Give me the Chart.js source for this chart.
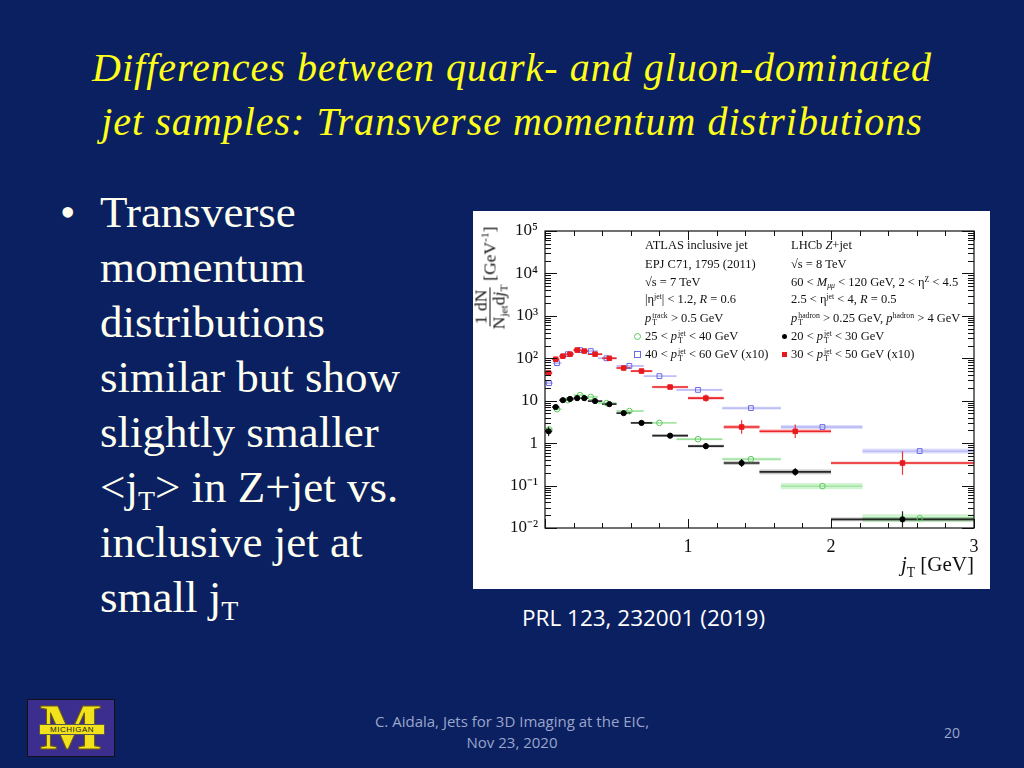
<!DOCTYPE html>
<html><head><meta charset="utf-8">
<script src="https://cdn.jsdelivr.net/npm/chart.js@4/dist/chart.umd.min.js"></script>
<style>
html,body{margin:0;padding:0;}
body{width:1024px;height:768px;background:#0a2060;position:relative;overflow:hidden;font-family:"Liberation Serif","Times New Roman",serif;}
.title{position:absolute;left:0;top:41px;width:1024px;text-align:center;color:#ffff1a;font-family:"Liberation Serif",serif;font-style:italic;font-size:40px;letter-spacing:1px;line-height:54px;white-space:nowrap;}
.it{font-style:italic;}
.bdot{position:absolute;left:60px;top:185px;color:#fffff0;font-size:44px;line-height:55px;}
.bul{position:absolute;left:100px;top:185px;color:#fffff0;font-size:45px;line-height:55px;white-space:nowrap;}
.bul sub{font-size:0.62em;vertical-align:-0.28em;line-height:0;}
.caption{position:absolute;left:522px;top:603px;color:#ffffff;font-family:"Open Sans","Liberation Sans",sans-serif;font-size:22.5px;line-height:30px;white-space:nowrap;}
.foot{position:absolute;left:292px;width:440px;top:711px;text-align:center;color:#9aa5cc;font-family:"Open Sans","Liberation Sans",sans-serif;font-size:15px;line-height:21px;}
.pnum{position:absolute;left:944px;top:723px;color:#9aa5cc;font-family:"Open Sans","Liberation Sans",sans-serif;font-size:14px;line-height:20px;}
.logo{position:absolute;left:27px;top:699px;width:86px;height:56px;background:#3b2e8e;border:1px solid #111;overflow:hidden;}
.logo .m{position:absolute;left:0;top:-6px;width:86px;text-align:center;color:#f2e21c;font-family:"Liberation Serif",serif;font-weight:bold;font-size:66px;line-height:66px;-webkit-text-stroke:1px #6b5a10;}
.logo .band{position:absolute;left:11px;top:24px;width:64px;height:9px;background:#f2e21c;border:1px solid #555;color:#222;font-family:"Liberation Sans",sans-serif;font-size:8px;line-height:9px;text-align:center;letter-spacing:0.5px;}
#wrap{position:absolute;left:473px;top:211px;width:517px;height:378px;background:#fff;}
#c{position:absolute;left:0;top:0;}
.lg{position:absolute;font-family:"Liberation Serif",serif;font-size:12.5px;line-height:16px;color:#111;white-space:nowrap;}
.st{display:inline-flex;flex-direction:column;font-size:0.62em;line-height:0.95;vertical-align:4px;margin-left:1px;}
.lg sup{font-size:0.62em;line-height:0;vertical-align:0.5em;}
.lg sub{font-size:0.62em;line-height:0;vertical-align:-0.3em;}
.mk{position:absolute;}
.ylab{position:absolute;left:17px;top:67px;transform:translate(-50%,-50%) rotate(-90deg);font-family:"Liberation Serif",serif;font-size:17.5px;color:#111;white-space:nowrap;display:flex;align-items:center;}
.frac{display:inline-flex;flex-direction:column;align-items:center;line-height:17px;margin-right:4px;}
.frac .num{border-bottom:1px solid #111;padding:0 2px;}
.frac sub,.xlab sub,.ylab sup{font-size:0.65em;line-height:0;}
.frac sub{vertical-align:-0.3em;}
.ylab sup{vertical-align:0.6em;}
.xlab{position:absolute;right:16px;top:340px;font-family:"Liberation Serif",serif;font-size:21px;line-height:26px;color:#111;white-space:nowrap;}
.xlab sub{vertical-align:-0.45em;}
</style></head>
<body>
<div class="title">Differences between quark- and gluon-dominated<br>jet samples: Transverse momentum distributions</div>
<div class="bdot">•</div>
<div class="bul">Transverse<br>momentum<br>distributions<br>similar but show<br>slightly smaller<br>&lt;j<sub>T</sub>&gt; in Z+jet vs.<br>inclusive jet at<br>small j<sub>T</sub></div>

<div id="wrap">
  <canvas id="c" width="517" height="378"></canvas>
  <div class="ylab"><span class="frac"><span class="num">1&nbsp;dN</span><span>N<sub>jet</sub>d<span class="it">j</span><sub>T</sub></span></span><span>[GeV<sup>-1</sup>]</span></div>
  <div class="xlab"><span class="it">j</span><sub>T</sub> [GeV]</div>

  <div class="lg" style="left:172px;top:26px;">ATLAS inclusive jet</div>
  <div class="lg" style="left:172px;top:45px;">EPJ C71, 1795 (2011)</div>
  <div class="lg" style="left:172px;top:63px;">√s = 7 TeV</div>
  <div class="lg" style="left:172px;top:80px;">|η<sup>jet</sup>| &lt; 1.2, <span class="it">R</span> = 0.6</div>
  <div class="lg" style="left:172px;top:99px;"><span class="it">p</span><span class="st"><span>track</span><span>T</span></span> &gt; 0.5 GeV</div>
  <div class="lg" style="left:172px;top:117px;">25 &lt; <span class="it">p</span><span class="st"><span>jet</span><span>T</span></span> &lt; 40 GeV</div>
  <div class="lg" style="left:172px;top:135px;">40 &lt; <span class="it">p</span><span class="st"><span>jet</span><span>T</span></span> &lt; 60 GeV (x10)</div>
  <span class="mk" style="left:161px;top:122px;width:5px;height:5px;border:1px solid #5cc85c;border-radius:50%;"></span>
  <span class="mk" style="left:161px;top:140px;width:5px;height:5px;border:1px solid #6a6ae8;"></span>

  <div class="lg" style="left:318px;top:26px;">LHCb <span class="it">Z</span>+jet</div>
  <div class="lg" style="left:318px;top:45px;">√s = 8 TeV</div>
  <div class="lg" style="left:318px;top:63px;">60 &lt; <span class="it">M</span><sub><span class="it">μμ</span></sub> &lt; 120 GeV, 2 &lt; η<sup>Z</sup> &lt; 4.5</div>
  <div class="lg" style="left:318px;top:80px;">2.5 &lt; η<sup>jet</sup> &lt; 4, <span class="it">R</span> = 0.5</div>
  <div class="lg" style="left:318px;top:99px;"><span class="it">p</span><span class="st"><span>hadron</span><span>T</span></span> &gt; 0.25 GeV, <span class="it">p</span><sup>hadron</sup> &gt; 4 GeV</div>
  <div class="lg" style="left:318px;top:117px;">20 &lt; <span class="it">p</span><span class="st"><span>jet</span><span>T</span></span> &lt; 30 GeV</div>
  <div class="lg" style="left:318px;top:135px;">30 &lt; <span class="it">p</span><span class="st"><span>jet</span><span>T</span></span> &lt; 50 GeV (x10)</div>
  <span class="mk" style="left:309px;top:123px;width:5px;height:5px;background:#000;border-radius:50%;"></span>
  <span class="mk" style="left:309px;top:141px;width:5px;height:5px;background:#e8191e;"></span>
</div>

<div class="caption">PRL 123, 232001 (2019)</div>
<div class="logo"><div class="m">M</div><div class="band">MICHIGAN</div></div>
<div class="foot">C. Aidala, Jets for 3D Imaging at the EIC,<br>Nov 23, 2020</div>
<div class="pnum">20</div>

<script>
// ---- data ----
const lhcbEdges = [0, 0.05, 0.1, 0.15, 0.2, 0.25, 0.3, 0.4, 0.5, 0.6, 0.75, 1.0, 1.25, 1.5, 2.0, 3.0];
const lhcbX     = [0.025, 0.075, 0.125, 0.175, 0.225, 0.275, 0.35, 0.45, 0.55, 0.675, 0.875, 1.125, 1.375, 1.75, 2.5];
const lhcbHigh  = [45, 95, 112, 125, 156, 148, 125, 100, 59, 50, 21, 11.5, 2.4, 1.9, 0.34];        // 30<pT<50 (x10)
const lhcbHighStat = [0.17, 0.05, 0.04, 0.04, 0.03, 0.03, 0.03, 0.03, 0.04, 0.05, 0.11, 0.22, 0.44, 0.44, 0.89];
const lhcbHighSys  = [0.06, 0.05, 0.05, 0.05, 0.05, 0.05, 0.05, 0.05, 0.06, 0.06, 0.07, 0.08, 0.11, 0.11, 0.08];
const lhcbLow   = [1.9, 7.1, 10.3, 11, 11.5, 11.5, 9.8, 8.3, 5.1, 3.0, 1.5, 0.85, 0.34, 0.21, 0.016];  // 20<pT<30
const lhcbLowStat = [0.30, 0.06, 0.04, 0.04, 0.03, 0.03, 0.03, 0.04, 0.05, 0.06, 0.08, 0.18, 0.24, 0.24, 0.55];
const lhcbLowSys  = [0.06, 0.05, 0.05, 0.05, 0.05, 0.05, 0.05, 0.05, 0.06, 0.06, 0.07, 0.08, 0.11, 0.14, 0.11];

const atlasEdges = [0, 0.055, 0.115, 0.2, 0.28, 0.37, 0.5, 0.69, 0.92, 1.24, 1.65, 2.22, 3.0];
const atlasX     = [0.028, 0.084, 0.16, 0.245, 0.32, 0.43, 0.59, 0.80, 1.07, 1.44, 1.94, 2.62];
const atlasLow   = [2.1, 6.3, 10.3, 13.5, 12.3, 8.8, 5.7, 3.0, 1.24, 0.42, 0.097, 0.017];   // 25<pT<40
const atlasLowSys = [0.06, 0.05, 0.05, 0.05, 0.05, 0.05, 0.05, 0.05, 0.06, 0.08, 0.18, 0.24];
const atlasHigh  = [26, 77, 125, 156, 148, 100, 66, 38, 18, 6.7, 2.4, 0.65];           // 40<pT<60 (x10)
const atlasHighSys = [0.05, 0.05, 0.05, 0.05, 0.05, 0.05, 0.05, 0.05, 0.06, 0.08, 0.11, 0.14];

const yTickValues = [0.01, 0.1, 1, 10, 100, 1000, 10000, 100000];
const yTickLabels = ['10⁻²', '10⁻¹', '1', '10', '10²', '10³', '10⁴', '10⁵'];
const xTickLabels = {1: '1', 2: '2', 3: '3'};

const series = [
  {x: lhcbX, v: lhcbHigh, edges: lhcbEdges, stat: lhcbHighStat, sys: lhcbHighSys,
   bar: 'rgba(235,30,35,0.95)', band: 'rgba(240,60,60,0.35)', lw: 1.6, statCol: 'rgba(235,30,35,0.9)'},
  {x: lhcbX, v: lhcbLow, edges: lhcbEdges, stat: lhcbLowStat, sys: lhcbLowSys,
   bar: 'rgba(20,20,20,0.9)', band: 'rgba(0,0,0,0.22)', lw: 1.6, statCol: 'rgba(0,0,0,0.85)'},
  {x: atlasX, v: atlasHigh, edges: atlasEdges, stat: null, sys: atlasHighSys,
   bar: 'rgba(140,140,240,0.45)', band: 'rgba(150,150,245,0.35)', lw: 1.4},
  {x: atlasX, v: atlasLow, edges: atlasEdges, stat: null, sys: atlasLowSys,
   bar: 'rgba(110,210,110,0.55)', band: 'rgba(120,220,120,0.35)', lw: 1.4}
];
const pts = (xs, vs) => xs.map((x, i) => ({x: x, y: vs[i]}));

const errPlugin = {
  id: 'errbars',
  beforeDatasetsDraw(chart) {
    const {ctx, chartArea: a, scales: {x, y}} = chart;
    ctx.save();
    ctx.beginPath(); ctx.rect(a.left, a.top, a.right - a.left, a.bottom - a.top); ctx.clip();
    [3, 2, 1, 0].forEach(k => {
      const s = series[k];
      s.v.forEach((v, i) => {
        const xl = x.getPixelForValue(s.edges[i]), xr = x.getPixelForValue(s.edges[i + 1]);
        const yc = y.getPixelForValue(v);
        const f = 1 + s.sys[i];
        const y1 = y.getPixelForValue(v * f), y2 = y.getPixelForValue(v / f);
        ctx.fillStyle = s.band;
        ctx.fillRect(xl, y1, xr - xl, y2 - y1);
        ctx.strokeStyle = s.bar; ctx.lineWidth = s.lw;
        ctx.beginPath(); ctx.moveTo(xl, yc); ctx.lineTo(xr, yc); ctx.stroke();
        if (s.stat) {
          const e = 1 + s.stat[i];
          const xc = x.getPixelForValue(s.x[i]);
          ctx.strokeStyle = s.statCol; ctx.lineWidth = 1.2;
          ctx.beginPath(); ctx.moveTo(xc, y.getPixelForValue(v * e)); ctx.lineTo(xc, y.getPixelForValue(v / e)); ctx.stroke();
        }
      });
    });
    ctx.restore();
  },
  afterDraw(chart) {
    const {ctx, chartArea: a, scales: {x, y}} = chart;
    ctx.save();
    ctx.strokeStyle = '#111'; ctx.lineWidth = 1.2;
    ctx.strokeRect(a.left, a.top, a.right - a.left, a.bottom - a.top);
    ctx.lineWidth = 1;
    ctx.beginPath();
    for (let d = -2; d <= 5; d++) {
      for (let m = 1; m <= 9; m++) {
        const val = m * Math.pow(10, d);
        if (val > 1e5 * 1.0001) break;
        const py = Math.round(y.getPixelForValue(val)) + 0.5;
        const L = m === 1 ? 12 : 6;
        ctx.moveTo(a.left, py); ctx.lineTo(a.left + L, py);
        ctx.moveTo(a.right, py); ctx.lineTo(a.right - L, py);
      }
    }
    for (let k = 0; k <= 15; k++) {
      const val = k * 0.2;
      const px = Math.round(x.getPixelForValue(val)) + 0.5;
      const L = (k % 5 === 0) ? 9 : 5;
      ctx.moveTo(px, a.bottom); ctx.lineTo(px, a.bottom - L);
      ctx.moveTo(px, a.top); ctx.lineTo(px, a.top + L);
    }
    ctx.stroke();
    ctx.restore();
  }
};

new Chart(document.getElementById('c'), {
  type: 'scatter',
  data: {
    datasets: [
      {label: 'LHCb 30<pT<50 (x10)', data: pts(lhcbX, lhcbHigh), pointStyle: 'rect', pointRadius: 3.2,
       backgroundColor: '#e8191e', borderColor: '#e8191e', borderWidth: 1},
      {label: 'LHCb 20<pT<30', data: pts(lhcbX, lhcbLow), pointStyle: 'circle', pointRadius: 2.6,
       backgroundColor: '#000', borderColor: '#000', borderWidth: 1},
      {label: 'ATLAS 40<pT<60 (x10)', data: pts(atlasX, atlasHigh), pointStyle: 'rect', pointRadius: 3.4,
       backgroundColor: 'rgba(255,255,255,0)', borderColor: '#6a6ae8', borderWidth: 1},
      {label: 'ATLAS 25<pT<40', data: pts(atlasX, atlasLow), pointStyle: 'circle', pointRadius: 2.8,
       backgroundColor: 'rgba(255,255,255,0)', borderColor: '#5cc85c', borderWidth: 1}
    ]
  },
  options: {
    responsive: false, animation: false, devicePixelRatio: 1,
    layout: {padding: {left: 0, top: 20, right: 16, bottom: 0}},
    plugins: {legend: {display: false}, tooltip: {enabled: false}},
    scales: {
      x: {type: 'linear', min: 0, max: 3,
          grid: {display: false, drawTicks: false}, border: {display: false},
          ticks: {stepSize: 1, padding: 8, color: '#111', font: {family: 'Liberation Serif', size: 18},
                  maxRotation: 0, callback: v => xTickLabels[v] || ''},
          afterFit: s => { s.height = 61; }},
      y: {type: 'logarithmic', min: 0.01, max: 100000,
          grid: {display: false, drawTicks: false}, border: {display: false},
          ticks: {padding: 7, color: '#111', font: {family: 'Liberation Serif', size: 17},
                  callback: (v, i) => yTickLabels[i]},
          afterBuildTicks: s => { s.ticks = yTickValues.map(v => ({value: v})); },
          afterFit: s => { s.width = 72; }}
    }
  },
  plugins: [errPlugin]
});
</script>
</body></html>
